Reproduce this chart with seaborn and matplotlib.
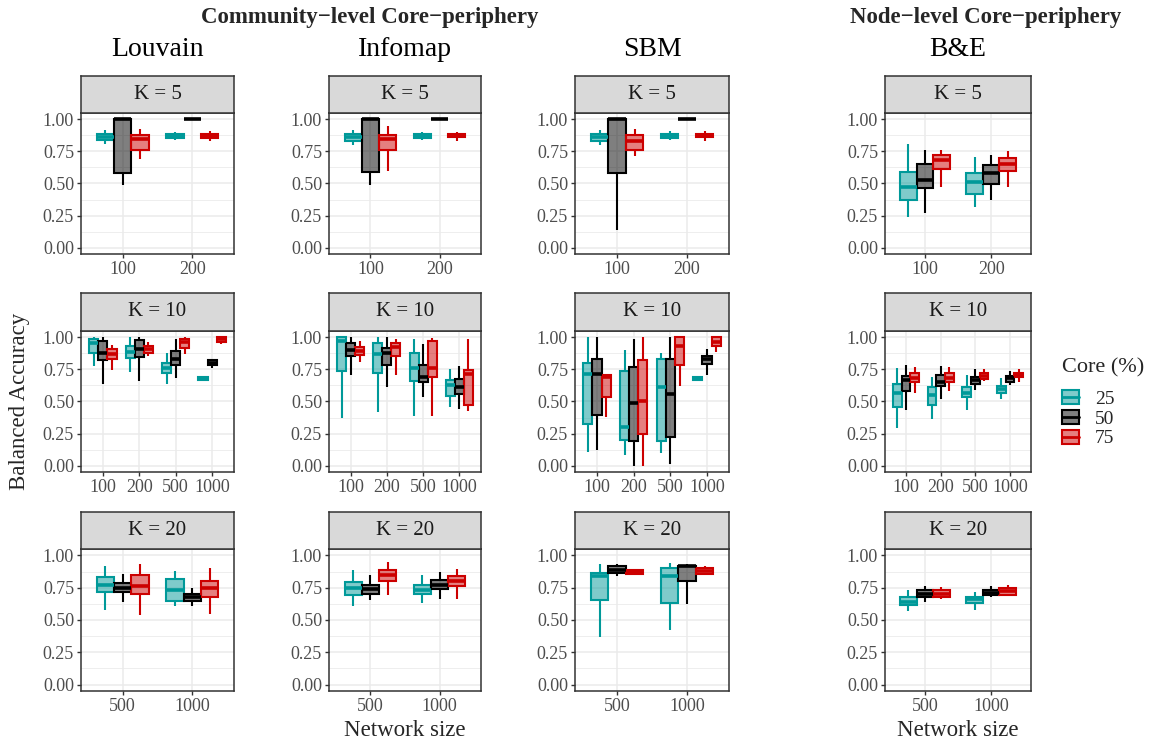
import numpy as np
import pandas as pd
import matplotlib
matplotlib.use("Agg")
import matplotlib.pyplot as plt
from matplotlib.colors import to_rgba
from matplotlib.patches import Patch
from matplotlib.lines import Line2D
from matplotlib.legend_handler import HandlerTuple
from matplotlib.ticker import FixedLocator
import seaborn as sns

sns.set_theme(style="white")
plt.rcParams["font.family"] = ["Liberation Serif", "DejaVu Serif"]

methods = ["Louvain", "Infomap", "SBM", "B&E"]
k_labels = ["K = 5", "K = 10", "K = 20"]
core_levels = ["25", "50", "75"]
core_colors = ["#009999", "#000000", "#CC0000"]
sizes_k5 = ["100", "200"]
sizes_k10 = ["100", "200", "500", "1000"]
sizes_k20 = ["500", "1000"]

# Five-number summaries [lower whisker, Q1, median, Q3, upper whisker],
# one list per network size, one entry per core share (25, 50, 75 %).
louvain_k5 = [
    [[0.81, 0.84, 0.865, 0.89, 0.92], [0.49, 0.585, 1.0, 1.0, 1.0], [0.695, 0.76, 0.85, 0.88, 0.925]],
    [[0.84, 0.855, 0.87, 0.89, 0.905], [1.0, 1.0, 1.0, 1.0, 1.0], [0.83, 0.855, 0.87, 0.89, 0.91]],
]
louvain_k10 = [
    [[0.775, 0.88, 0.955, 0.985, 1.0], [0.64, 0.82, 0.88, 0.97, 1.0], [0.745, 0.835, 0.87, 0.91, 0.94]],
    [[0.73, 0.84, 0.89, 0.935, 1.0], [0.66, 0.85, 0.91, 0.98, 1.0], [0.855, 0.88, 0.91, 0.93, 0.965]],
    [[0.64, 0.72, 0.765, 0.80, 0.88], [0.68, 0.785, 0.835, 0.895, 0.99], [0.87, 0.915, 0.965, 0.99, 1.0]],
    [[0.665, 0.67, 0.68, 0.695, 0.70], [0.765, 0.785, 0.80, 0.825, 0.835], [0.945, 0.965, 0.985, 1.0, 1.0]],
]
louvain_k20 = [
    [[0.58, 0.72, 0.77, 0.835, 0.92], [0.64, 0.72, 0.745, 0.79, 0.855], [0.54, 0.705, 0.765, 0.85, 0.935]],
    [[0.605, 0.65, 0.735, 0.82, 0.88], [0.61, 0.65, 0.675, 0.70, 0.75], [0.55, 0.68, 0.745, 0.805, 0.90]],
]
infomap_k5 = [
    [[0.80, 0.835, 0.865, 0.89, 0.92], [0.49, 0.59, 1.0, 1.0, 1.0], [0.60, 0.76, 0.85, 0.88, 0.945]],
    [[0.84, 0.855, 0.87, 0.89, 0.905], [1.0, 1.0, 1.0, 1.0, 1.0], [0.83, 0.86, 0.875, 0.89, 0.905]],
]
infomap_k10 = [
    [[0.375, 0.735, 0.975, 1.0, 1.0], [0.71, 0.855, 0.905, 0.96, 1.0], [0.805, 0.865, 0.895, 0.925, 0.97]],
    [[0.415, 0.725, 0.87, 0.955, 1.0], [0.61, 0.785, 0.875, 0.915, 1.0], [0.71, 0.855, 0.925, 0.96, 0.985]],
    [[0.385, 0.66, 0.765, 0.875, 0.99], [0.535, 0.65, 0.695, 0.785, 0.95], [0.39, 0.695, 0.765, 0.975, 0.995]],
    [[0.46, 0.545, 0.63, 0.67, 0.75], [0.44, 0.555, 0.615, 0.675, 0.775], [0.425, 0.475, 0.715, 0.745, 0.99]],
]
infomap_k20 = [
    [[0.61, 0.695, 0.745, 0.795, 0.885], [0.655, 0.70, 0.74, 0.77, 0.85], [0.695, 0.80, 0.85, 0.89, 0.95]],
    [[0.635, 0.705, 0.735, 0.77, 0.845], [0.665, 0.74, 0.77, 0.81, 0.875], [0.665, 0.76, 0.805, 0.84, 0.895]],
]
sbm_k5 = [
    [[0.80, 0.835, 0.865, 0.89, 0.92], [0.14, 0.58, 1.0, 1.0, 1.0], [0.715, 0.765, 0.835, 0.88, 0.925]],
    [[0.84, 0.855, 0.87, 0.89, 0.91], [1.0, 1.0, 1.0, 1.0, 1.0], [0.83, 0.86, 0.875, 0.89, 0.91]],
]
sbm_k10 = [
    [[0.105, 0.325, 0.715, 0.80, 1.0], [0.125, 0.395, 0.715, 0.835, 1.0], [0.38, 0.535, 0.695, 0.705, 0.705]],
    [[0.08, 0.20, 0.30, 0.735, 0.90], [0.0, 0.19, 0.49, 0.77, 0.985], [0.0, 0.25, 0.50, 0.82, 1.0]],
    [[0.10, 0.19, 0.61, 0.83, 0.88], [0.01, 0.22, 0.56, 0.83, 1.0], [0.62, 0.785, 0.93, 1.0, 1.0]],
    [[0.665, 0.67, 0.685, 0.695, 0.70], [0.71, 0.79, 0.83, 0.855, 0.91], [0.89, 0.93, 0.965, 1.0, 1.0]],
]
sbm_k20 = [
    [[0.37, 0.655, 0.84, 0.865, 0.935], [0.84, 0.865, 0.89, 0.915, 0.935], [0.855, 0.86, 0.87, 0.885, 0.885]],
    [[0.42, 0.635, 0.84, 0.905, 0.94], [0.625, 0.80, 0.915, 0.92, 0.935], [0.85, 0.86, 0.88, 0.905, 0.92]],
]
be_k5 = [
    [[0.24, 0.375, 0.47, 0.59, 0.81], [0.27, 0.465, 0.53, 0.65, 0.76], [0.475, 0.61, 0.68, 0.72, 0.765]],
    [[0.32, 0.415, 0.51, 0.585, 0.71], [0.37, 0.495, 0.58, 0.645, 0.72], [0.47, 0.595, 0.65, 0.70, 0.75]],
]
be_k10 = [
    [[0.29, 0.46, 0.565, 0.635, 0.76], [0.435, 0.585, 0.665, 0.70, 0.785], [0.57, 0.65, 0.685, 0.725, 0.77]],
    [[0.36, 0.475, 0.55, 0.61, 0.69], [0.52, 0.62, 0.655, 0.705, 0.78], [0.585, 0.655, 0.685, 0.72, 0.77]],
    [[0.435, 0.535, 0.565, 0.61, 0.71], [0.59, 0.64, 0.665, 0.695, 0.75], [0.66, 0.675, 0.70, 0.72, 0.75]],
    [[0.52, 0.565, 0.595, 0.62, 0.685], [0.63, 0.655, 0.68, 0.70, 0.74], [0.655, 0.69, 0.705, 0.725, 0.75]],
]
be_k20 = [
    [[0.57, 0.615, 0.64, 0.675, 0.73], [0.64, 0.68, 0.705, 0.73, 0.765], [0.66, 0.68, 0.705, 0.73, 0.755]],
    [[0.58, 0.63, 0.665, 0.68, 0.72], [0.68, 0.69, 0.71, 0.735, 0.765], [0.69, 0.695, 0.725, 0.75, 0.77]],
]

panel_sizes = [sizes_k5, sizes_k10, sizes_k20]
panel_stats = [
    [louvain_k5, louvain_k10, louvain_k20],
    [infomap_k5, infomap_k10, infomap_k20],
    [sbm_k5, sbm_k10, sbm_k20],
    [be_k5, be_k10, be_k20],
]

GREY20 = "#333333"
GREY30 = "#4D4D4D"
GRID = "#EBEBEB"

W, H = 1154, 747
fig = plt.figure(figsize=(W / 100, H / 100), dpi=100)


def rect(x0, x1, y0, y1):
    return [x0 / W, 1 - y1 / H, (x1 - x0) / W, (y1 - y0) / H]


col_edges = [(81, 234), (329, 481), (575, 729), (885, 1031)]
row_edges = [(76, 113, 254), (293, 331, 472), (512, 549, 691)]


def draw_panel(ax, sizes, stats):
    for ci, (core, col) in enumerate(zip(core_levels, core_colors)):
        rows = [(s, core, v) for s, per_size in zip(sizes, stats) for v in per_size[ci]]
        df = pd.DataFrame(rows, columns=["size", "core", "acc"])
        sns.boxplot(
            data=df, x="size", y="acc", hue="core", order=sizes, hue_order=core_levels,
            palette=core_colors, dodge=True, width=0.75, gap=0, whis=(0, 100),
            showcaps=False, showfliers=False, linewidth=1.5, legend=False, ax=ax,
            boxprops=dict(facecolor=to_rgba(col, 0.5), edgecolor=col),
            whiskerprops=dict(color=col, solid_capstyle="butt"),
            medianprops=dict(color=col, linewidth=2.6, solid_capstyle="butt"),
        )
    n = len(sizes)
    ax.set_xlim(-0.6, n - 0.4)
    ax.set_ylim(-0.05, 1.05)
    ax.set_xticks(range(n))
    ax.set_xticklabels(sizes)
    ax.set_yticks([0, 0.25, 0.5, 0.75, 1.0])
    ax.set_yticklabels(["0.00", "0.25", "0.50", "0.75", "1.00"])
    ax.yaxis.set_minor_locator(FixedLocator([0.125, 0.375, 0.625, 0.875]))
    ax.set_axisbelow(True)
    ax.grid(True, which="major", color=GRID, linewidth=1.1)
    ax.grid(True, which="minor", axis="y", color=GRID, linewidth=0.6)
    ax.set_xlabel("")
    ax.set_ylabel("")
    ax.set_facecolor("white")
    for sp in ax.spines.values():
        sp.set_color(GREY20)
        sp.set_linewidth(1.1)
        sp.set_visible(True)
    ax.tick_params(axis="both", which="major", direction="out", length=3, width=1.0,
                   color=GREY20, labelcolor=GREY30, labelsize=13, pad=2,
                   bottom=True, left=True)
    ax.tick_params(axis="both", which="minor", length=0)


for c, (x0, x1) in enumerate(col_edges):
    for r, (s0, a0, a1) in enumerate(row_edges):
        ax = fig.add_axes(rect(x0, x1, a0, a1))
        draw_panel(ax, panel_sizes[r], panel_stats[c][r])
        sax = fig.add_axes(rect(x0, x1, s0, a0))
        sax.set_facecolor("#D9D9D9")
        sax.set_xticks([])
        sax.set_yticks([])
        for sp in sax.spines.values():
            sp.set_color(GREY20)
            sp.set_linewidth(1.1)
            sp.set_visible(True)
        sax.text(0.5, 0.5, k_labels[r], ha="center", va="center", fontsize=15,
                 color="#1A1A1A", transform=sax.transAxes)
    fig.text((x0 + x1) / 2 / W, 1 - 49 / H, methods[c], ha="center", va="center",
             fontsize=20, color="black")

fig.text(370 / W, 1 - 17 / H, "Community\u2212level Core\u2212periphery", ha="center",
         va="center", fontsize=16.5, fontweight="bold")
fig.text(986 / W, 1 - 17 / H, "Node\u2212level Core\u2212periphery", ha="center",
         va="center", fontsize=16.5, fontweight="bold")

fig.text(20 / W, 1 - 401 / H, "Balanced Accuracy", rotation=90, ha="center",
         va="center", fontsize=16.5)
for c in (1, 3):
    x0, x1 = col_edges[c]
    fig.text((x0 + x1) / 2 / W, 1 - 731 / H, "Network size", ha="center",
             va="center", fontsize=16.5)

# legend: title placed as its own text, entries as box glyphs
fig.text(1062 / W, 1 - 368 / H, "Core (%)", ha="left", va="center", fontsize=16)
handles = []
for col in core_colors:
    box = Patch(facecolor=to_rgba(col, 0.5), edgecolor=col, linewidth=1.5)
    med = Line2D([], [], color=col, linewidth=2.0)
    handles.append((box, med))
fig.legend(handles, core_levels, loc="upper left",
           bbox_to_anchor=(1058 / W, 1 - 386 / H), frameon=False, fontsize=14,
           handlelength=0.9, handleheight=0.75,
           handletextpad=0.8, labelspacing=0.1,
           borderaxespad=0.0, borderpad=0.2,
           handler_map={tuple: HandlerTuple(ndivide=1, pad=0)})

fig.savefig("out.png", dpi=100)
